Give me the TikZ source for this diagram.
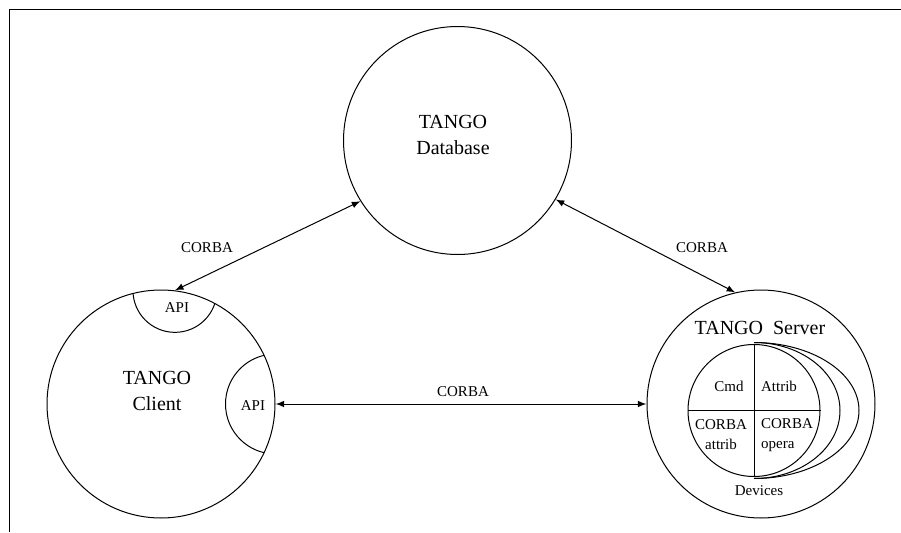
\documentclass[tikz,border=0pt]{standalone}
\usepackage{fontspec}
\setmainfont{Liberation Serif}
\usetikzlibrary{positioning}

\begin{document}
\begin{tikzpicture}[x=0.5pt, y=0.5pt, line width=0.5pt]
        \tikzstyle{blob}=[draw, circle, minimum size=114pt, inner sep=0pt]
        \tikzstyle{big}=[font=\fontsize{10}{13}\selectfont, align=center]
        \tikzstyle{small}=[font=\fontsize{7.5}{10}\selectfont, align=center]
        \tikzstyle{link}=[<->, >=latex]

        \useasboundingbox (0,0) rectangle (901,532);
        \draw (9,0) -- (9,523) -- (901,523);

        \node (db)     [blob] at (457.5,391.5) {};
        \node (client) [blob] at (161,128) {};
        \node (server) [blob] at (761,128) {};

        \node (db text)     [big] at (453,397) {TANGO\\Database};
        \node (client text) [big] at (157,141) {TANGO\\Client};
        \node (server text) [big] at (760,204) {TANGO~~Server};

        % API parts of the client
        \begin{scope}
            \clip (client.center) circle (57pt);
            \draw (client.83) circle (21pt);
            \draw (client.east) circle (25pt);
        \end{scope}
        \node (api top)   [small] at (177,224) {API};
        \node (api right) [small] at (253,126) {API};

        % devices inside the server
        \draw ([xshift=0pt]754,121.5) ++(0,68) arc[start angle=90, end angle=-90, x radius=52.5pt, y radius=34pt];
        \draw (754,121.5) ++(0,68) arc[start angle=90, end angle=-90, x radius=43pt, y radius=34pt];
        \node (devices) [draw, circle, fill=white, minimum size=66pt, inner sep=0pt] at (754,121.5) {};
        \draw (devices.north) -- (devices.south);
        \draw (devices.west) -- (devices.east);
        \node (cmd)    [small] at (729,146) {Cmd};
        \node (attrib) [small] at (779,146) {Attrib};
        \node (corba attrib) [small] at (721,97) {CORBA\\attrib};
        \node (corba opera)  [small, align=left] at (787,97) {CORBA\\opera};
        \node (devices text) [small] at (759,41) {Devices};

        \draw[link] (db.212) -- (client.83);
        \draw[link] (db.329) -- (server.103);
        \draw[link] (client.east) -- (server.west);

        \node (corba left)  [small] at (207,284) {CORBA};
        \node (corba right) [small] at (702,284) {CORBA};
        \node (corba mid)   [small] at (463,140) {CORBA};
\end{tikzpicture}
\end{document}
